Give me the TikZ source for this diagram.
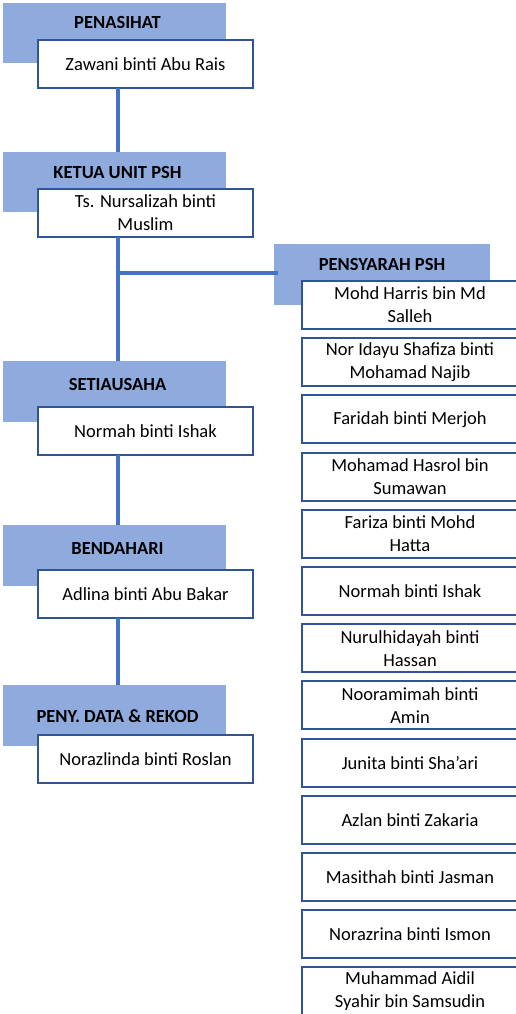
\documentclass[tikz,border=0pt]{standalone}
\usepackage{fontspec}
\setmainfont{Carlito}
\usepackage{tikz}
\definecolor{band}{HTML}{8FAADC}
\definecolor{edge}{HTML}{2F5597}
\definecolor{link}{HTML}{4472C4}
\tikzset{
  head/.style={fill=band, inner sep=0pt, outer sep=0pt, anchor=north west, minimum width=223pt},
  card/.style={draw=edge, fill=white, line width=2pt, inner sep=0pt, outer sep=0pt, anchor=north west,
    minimum width=215pt, minimum height=48pt, align=center, font=\fontsize{18.5}{23}\selectfont},
  staff/.style={card, minimum width=216pt},
  conn/.style={draw=link, line width=4pt},
  labh/.style={anchor=base, font=\fontsize{18.5}{22}\selectfont\bfseries}
}

\begin{document}
\begin{tikzpicture}[x=1pt, y=-1pt]
  \useasboundingbox (0,0) rectangle (516,1014);

  \coordinate (spine) at (117.5,0);
  \coordinate (br) at (117.5,273);

  % left column
  \node[head, minimum height=60pt] (hA) at (3,3) {};
  \node[head, minimum height=60pt] (hB) at (3,152) {};
  \node[head, minimum height=61pt] (hC) at (3,361) {};
  \node[head, minimum height=61pt] (hD) at (3,525) {};
  \node[head, minimum height=61pt] (hE) at (3,685) {};

  \node[labh] (tA) at (117.5,29) {PENASIHAT};
  \node[labh] (tB) at (117.5,178) {KETUA UNIT PSH};
  \node[labh] (tC) at (117.5,390) {SETIAUSAHA};
  \node[labh] (tD) at (117.5,554) {BENDAHARI};
  \node[labh] (tE) at (117.5,722) {PENY. DATA \& REKOD};

  \node[card] (wA) at (38,40) {Zawani binti Abu Rais};
  \node[card] (wB) at (38,189) {Ts. Nursalizah binti\\Muslim};
  \node[card] (wC) at (38,407) {Normah binti Ishak};
  \node[card] (wD) at (38,570) {Adlina binti Abu Bakar};
  \node[card] (wE) at (38,735) {Norazlinda binti Roslan};

  % right column
  \node[head, minimum width=216pt, minimum height=61pt] (hP) at (274,244) {};
  \node[labh] (tP) at (382,270) {PENSYARAH PSH};

  \node[staff] (s1) at (302,281) {Mohd Harris bin Md\\Salleh};
  \node[staff] (s2) at (302,338.2) {Nor Idayu Shafiza binti\\Mohamad Najib};
  \node[staff] (s3) at (302,395.4) {Faridah binti Merjoh};
  \node[staff] (s4) at (302,452.6) {Mohamad Hasrol bin\\Sumawan};
  \node[staff] (s5) at (302,509.8) {Fariza binti Mohd\\Hatta};
  \node[staff] (s6) at (302,567) {Normah binti Ishak};
  \node[staff] (s7) at (302,624.2) {Nurulhidayah binti\\Hassan};
  \node[staff] (s8) at (302,681.4) {Nooramimah binti\\Amin};
  \node[staff] (s9) at (302,738.6) {Junita binti Sha’ari};
  \node[staff] (s10) at (302,795.8) {Azlan binti Zakaria};
  \node[staff] (s11) at (302,853) {Masithah binti Jasman};
  \node[staff] (s12) at (302,910.2) {Norazrina binti Ismon};
  \node[staff] (s13) at (302,967.4) {Muhammad Aidil\\Syahir bin Samsudin};

  % links
  \draw[conn] (wA.south -| spine) -- (hB.north -| spine);
  \draw[conn] (wB.south -| spine) -- (hC.north -| spine);
  \draw[conn] (wC.south -| spine) -- (hD.north -| spine);
  \draw[conn] (wD.south -| spine) -- (hE.north -| spine);
  \draw[conn] (br) -- ([xshift=4pt]hP.west |- br);
\end{tikzpicture}
\end{document}
